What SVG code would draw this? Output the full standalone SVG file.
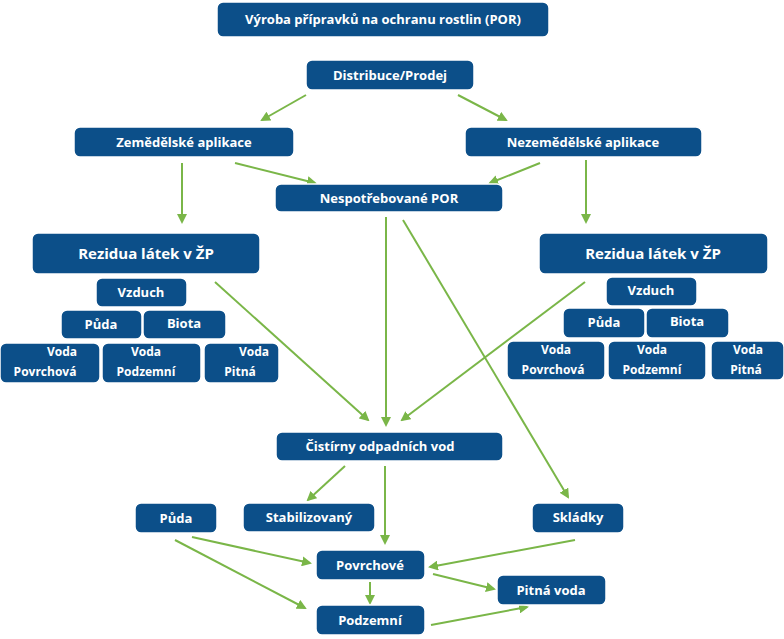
<svg xmlns="http://www.w3.org/2000/svg" width="784" height="639" viewBox="0 0 784 639">
<style>
.n rect{fill:#0c4f89;stroke:#fff;stroke-width:1.5;rx:6}
.n text{fill:#fff;font-family:"Open Sans","Liberation Sans",sans-serif;font-weight:bold;font-size:13px;text-anchor:middle}
.n .b{font-size:15px}
.n .s{font-size:12px}
#edges line{stroke:#7ab648;stroke-width:2;marker-end:url(#ah)}
</style>
<defs><marker id="ah" markerWidth="10" markerHeight="10" refX="8" refY="5" orient="auto" markerUnits="userSpaceOnUse"><path d="M0,0 L10,5 L0,10 z" fill="#7ab648"/></marker></defs>
<rect width="784" height="639" fill="#fff"/>
<g id="edges">
<line x1="306" y1="95" x2="262" y2="120"/>
<line x1="458" y1="95" x2="506" y2="120"/>
<line x1="182" y1="163" x2="182" y2="222"/>
<line x1="235" y1="163" x2="315" y2="183"/>
<line x1="540" y1="163" x2="490" y2="183"/>
<line x1="586" y1="160" x2="586" y2="222"/>
<line x1="386" y1="217" x2="386" y2="425"/>
<line x1="403" y1="220" x2="568" y2="497"/>
<line x1="215" y1="282" x2="368" y2="420"/>
<line x1="585" y1="282" x2="402" y2="420"/>
<line x1="345" y1="466" x2="308" y2="500"/>
<line x1="385" y1="466" x2="385" y2="543"/>
<line x1="192" y1="537" x2="310" y2="563"/>
<line x1="175" y1="540" x2="305" y2="608"/>
<line x1="575" y1="540" x2="430" y2="567"/>
<line x1="370" y1="582" x2="370" y2="603"/>
<line x1="433" y1="574" x2="494" y2="589"/>
<line x1="431" y1="625" x2="527" y2="607"/>
</g>
<g id="title" class="n"><rect x="217" y="2" width="332" height="35"/><text x="383" y="24">Výroba přípravků na ochranu rostlin (POR)</text></g>
<g id="distribuce" class="n"><rect x="306" y="60" width="168" height="30"/><text x="390" y="80">Distribuce/Prodej</text></g>
<g id="zemed" class="n"><rect x="74" y="127" width="220" height="30"/><text x="184" y="147">Zemědělské aplikace</text></g>
<g id="nezemed" class="n"><rect x="465" y="127" width="237" height="30"/><text x="583" y="147">Nezemědělské aplikace</text></g>
<g id="nespotr" class="n"><rect x="275" y="184" width="228" height="28"/><text x="389" y="203">Nespotřebované POR</text></g>
<g id="rezL" class="n"><rect x="32" y="233" width="228" height="41"/><text class="b" x="146" y="259">Rezidua látek v ŽP</text></g>
<g id="vzduchL" class="n"><rect x="96" y="278" width="91" height="29"/><text x="141" y="297">Vzduch</text></g>
<g id="pudaL" class="n"><rect x="61" y="310" width="81" height="29"/><text x="101" y="329">Půda</text></g>
<g id="biotaL" class="n"><rect x="143" y="310" width="83" height="29"/><text x="184" y="328">Biota</text></g>
<g id="povL" class="n"><rect x="0" y="343" width="100" height="40"/><text class="s" x="62" y="356">Voda</text><text class="s" x="45" y="376">Povrchová</text></g>
<g id="podL" class="n"><rect x="102" y="343" width="99" height="40"/><text class="s" x="146" y="356">Voda</text><text class="s" x="146" y="376">Podzemní</text></g>
<g id="pitL" class="n"><rect x="204" y="343" width="75" height="40"/><text class="s" x="254" y="356">Voda</text><text class="s" x="240" y="376">Pitná</text></g>
<g id="rezR" class="n"><rect x="539" y="233" width="229" height="41"/><text class="b" x="653" y="259">Rezidua látek v ŽP</text></g>
<g id="vzduchR" class="n"><rect x="606" y="277" width="91" height="29"/><text x="651" y="295">Vzduch</text></g>
<g id="pudaR" class="n"><rect x="563" y="308" width="82" height="30"/><text x="604" y="327">Půda</text></g>
<g id="biotaR" class="n"><rect x="646" y="308" width="83" height="30"/><text x="687" y="326">Biota</text></g>
<g id="povR" class="n"><rect x="507" y="341" width="98" height="39"/><text class="s" x="556" y="354">Voda</text><text class="s" x="553" y="374">Povrchová</text></g>
<g id="podR" class="n"><rect x="608" y="341" width="98" height="39"/><text class="s" x="652" y="354">Voda</text><text class="s" x="652" y="374">Podzemní</text></g>
<g id="pitR" class="n"><rect x="711" y="341" width="73" height="39"/><text class="s" x="748" y="354">Voda</text><text class="s" x="746" y="374">Pitná</text></g>
<g id="cistirny" class="n"><rect x="276" y="432" width="227" height="29"/><text x="380" y="451">Čistírny odpadních vod</text></g>
<g id="puda" class="n"><rect x="135" y="503" width="82" height="30"/><text x="176" y="523">Půda</text></g>
<g id="stabil" class="n"><rect x="243" y="503" width="132" height="29"/><text x="309" y="522">Stabilizovaný</text></g>
<g id="skladky" class="n"><rect x="532" y="503" width="92" height="30"/><text x="578" y="522">Skládky</text></g>
<g id="povrchove" class="n"><rect x="316" y="550" width="109" height="30"/><text x="370" y="570">Povrchové</text></g>
<g id="pitna" class="n"><rect x="497" y="575" width="109" height="30"/><text x="551" y="595">Pitná voda</text></g>
<g id="podzemni" class="n"><rect x="316" y="605" width="109" height="30"/><text x="370" y="625">Podzemní</text></g>
</svg>
